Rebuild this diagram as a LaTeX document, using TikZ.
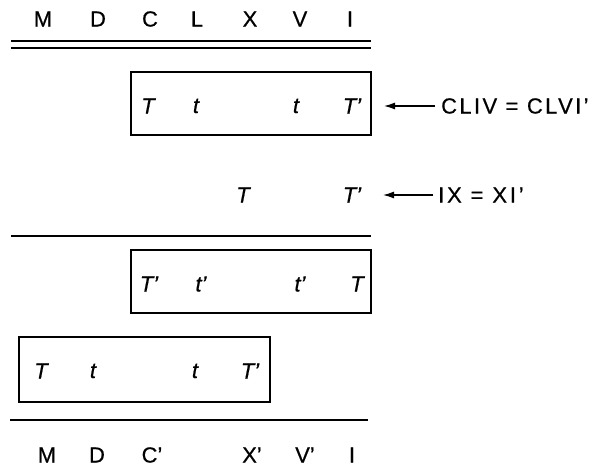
\documentclass[tikz,border=0pt]{standalone}
\usepackage{fontspec}
\setmainfont{Liberation Sans}[FakeBold=0.6]
\usetikzlibrary{arrows.meta}
\begin{document}
\begin{tikzpicture}[x=1bp,y=-1bp,
  lbl/.style={font=\fontsize{22}{24}\selectfont, inner sep=0pt, anchor=center},
  sym/.style={font=\fontsize{22}{24}\selectfont\itshape, inner sep=0pt, anchor=center},
  rule/.style={line width=1.4bp},
  frame/.style={draw, line width=1.3bp},
  pointer/.style={line width=1.3bp, -{Latex[length=11bp,width=7bp]}}]
\useasboundingbox (0,0) rectangle (597,467);

% column headings
\foreach \t/\x [count=\i] in {M/43,D/98,C/150,L/197,X/250,V/300,I/350}
  \node[lbl] (top\i) at (\x,19) {\t};
\draw[rule] (11,41) -- (371,41);
\draw[rule] (11,48) -- (371,48);

% first framed row
\draw[frame] (131,72) rectangle (371,135);
\node[sym] (a1) at (148,106) {T};
\node[sym] (a2) at (196,106) {t};
\node[sym] (a3) at (296,106) {t};
\node[sym] (a4) at (352,106) {T’};
\coordinate (ra) at (384,106);
\node[lbl, anchor=west] (ca) at (441,106) {\addfontfeatures{LetterSpace=11}CLIV = CLVI’};
\draw[pointer] ([xshift=-6bp]ca.west) -- (ra);

% unframed row
\node[sym] (b1) at (243,195) {T};
\node[sym] (b2) at (352,195) {T’};
\coordinate (rb) at (383,195);
\node[lbl, anchor=west] (cb) at (438,195) {\addfontfeatures{LetterSpace=13}IX = XI’};
\draw[pointer] ([xshift=-5bp]cb.west) -- (rb);
\draw[rule] (11,236) -- (371,236);

% second framed row
\draw[frame] (131,250) rectangle (371,313);
\node[sym] (c1) at (149,284) {T’};
\node[sym] (c2) at (201,284) {t’};
\node[sym] (c3) at (300,284) {t’};
\node[sym] (c4) at (357,284) {T};

% third framed row
\draw[frame] (19,337) rectangle (270,402);
\node[sym] (d1) at (41,371) {T};
\node[sym] (d2) at (93,371) {t};
\node[sym] (d3) at (195,371) {t};
\node[sym] (d4) at (250,371) {T’};
\draw[rule] (10,420) -- (368,420);

% bottom headings
\foreach \t/\x [count=\i] in {M/47,D/97,C’/152,X’/252,V’/305,I/352}
  \node[lbl] (bot\i) at (\x,455) {\t};
\end{tikzpicture}
\end{document}
